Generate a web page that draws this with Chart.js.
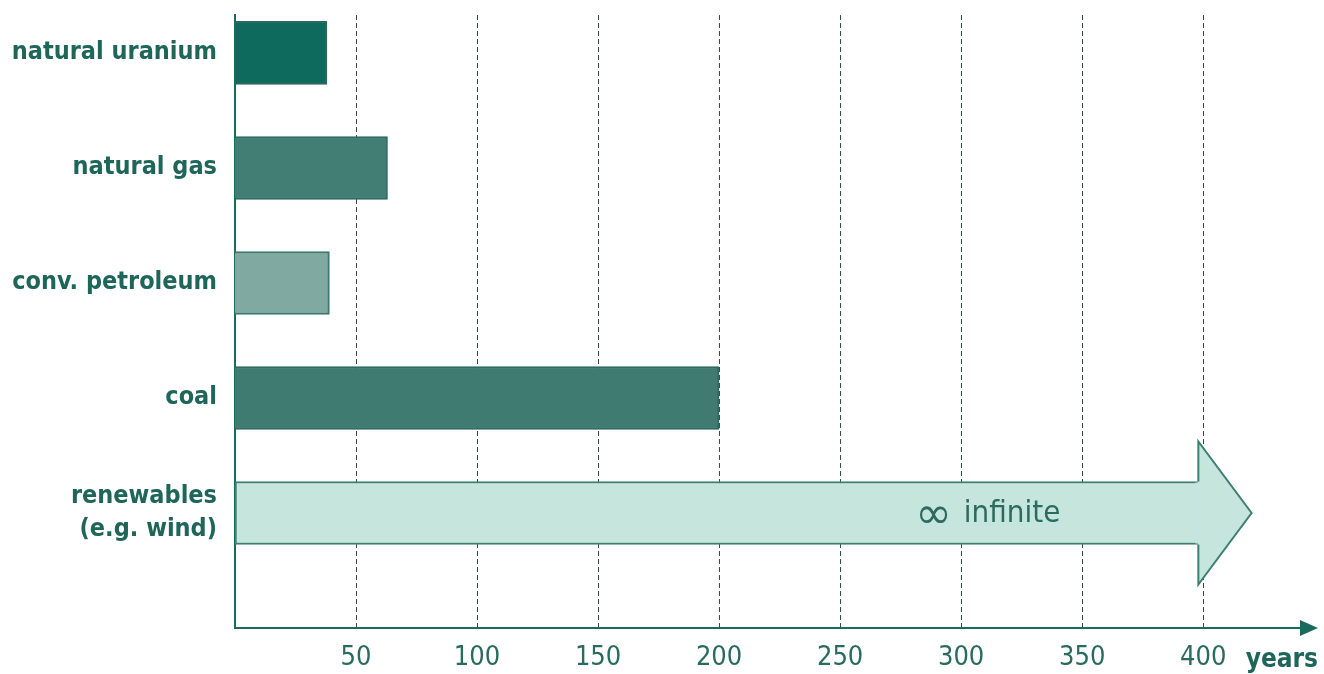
<!DOCTYPE html>
<html>
<head>
<meta charset="utf-8">
<title>Range of energy reserves</title>
<script src="https://cdn.jsdelivr.net/npm/chart.js@4.4.1/dist/chart.umd.min.js"></script>
<style>
    html, body { margin: 0; padding: 0; background: #ffffff; }
    #wrap { width: 1324px; height: 674px; position: relative; }
</style>
</head>
<body>
<div id="wrap"><canvas id="reservesChart"></canvas></div>
<script>
// Static reach of energy reserves, in years
const categories = ['natural uranium', 'natural gas', 'conv. petroleum', 'coal', ['renewables', '(e.g. wind)']];
const reachYears = [38, 63, 39, 200, 398];
const renewablesTip = 420;      // arrow point of the "infinite" bar
const barColors = ['#0d6a5d', '#427e74', '#80a9a1', '#3f7b71', '#c5e5dd'];
const xTicks = [50, 100, 150, 200, 250, 300, 350, 400];
const xUnit = 'years';
const infiniteLabel = 'infinite';

const TEAL = '#1c6a5e';
const TEXT = '#1e6659';
const NARROW = "'Liberation Sans Narrow', 'DejaVu Sans Condensed', sans-serif";

// arrowheads, "years" unit and the infinite label
const decorPlugin = {
    id: 'decor',
    afterDatasetsDraw(chart) {
        const { ctx, chartArea, scales } = chart;
        const x = scales.x;
        const bar = chart.getDatasetMeta(0).data[4];
        const half = bar.height / 2;

        // renewables arrow head
        const tipX = x.getPixelForValue(renewablesTip);
        const headHalf = half * 2.27;
        ctx.save();
        ctx.beginPath();
        ctx.moveTo(bar.x, bar.y - half);
        ctx.lineTo(bar.x, bar.y - headHalf);
        ctx.lineTo(tipX, bar.y);
        ctx.lineTo(bar.x, bar.y + headHalf);
        ctx.lineTo(bar.x, bar.y + half);
        ctx.fillStyle = barColors[4];
        ctx.fill();
        ctx.strokeStyle = '#3f7f73';
        ctx.lineWidth = 2;
        ctx.stroke();
        ctx.fillRect(bar.x - 3, bar.y - half + 1, 5, bar.height - 2);

        // infinite label inside the arrow
        ctx.fillStyle = '#2b6b60';
        ctx.textBaseline = 'middle';
        ctx.textAlign = 'right';
        ctx.font = '31px ' + NARROW;
        const textEnd = bar.x - 138;
        ctx.fillText(infiniteLabel, textEnd, bar.y + 1);
        const w = ctx.measureText(infiniteLabel).width;
        ctx.font = '44px "DejaVu Sans"';
        ctx.fillText('\u221E', textEnd - w - 12, bar.y + 4);

        // x axis arrow
        const axisY = chartArea.bottom;
        ctx.strokeStyle = TEAL;
        ctx.lineWidth = 2;
        ctx.beginPath();
        ctx.moveTo(chartArea.right, axisY);
        ctx.lineTo(1306, axisY);
        ctx.stroke();
        ctx.fillStyle = TEAL;
        ctx.beginPath();
        ctx.moveTo(1318, axisY);
        ctx.lineTo(1300, axisY - 8);
        ctx.lineTo(1300, axisY + 8);
        ctx.closePath();
        ctx.fill();

        // unit label
        ctx.fillStyle = TEXT;
        ctx.font = 'bold 26px ' + NARROW;
        ctx.textAlign = 'right';
        ctx.textBaseline = 'alphabetic';
        ctx.fillText(xUnit, 1318, 667);
        ctx.restore();
    }
};

const ctx = document.getElementById('reservesChart').getContext('2d');
new Chart(ctx, {
    type: 'bar',
    data: {
        datasets: [{
            data: reachYears.map((v, i) => ({ x: v, y: i })),
            backgroundColor: barColors,
            borderColor: ['#2a6a5f', '#2d6c61', '#3f7a70', '#2d6b61', '#3f7f73'],
            borderWidth: 2,
            borderSkipped: c => (c.dataIndex === 4 ? 'end' : 'start'),
            barThickness: 63
        }]
    },
    options: {
        indexAxis: 'y',
        responsive: true,
        maintainAspectRatio: false,
        animation: false,
        layout: { padding: { top: 15, right: 24, left: 0, bottom: 0 } },
        plugins: {
            legend: { display: false },
            tooltip: { enabled: false }
        },
        scales: {
            x: {
                type: 'linear',
                min: 0,
                max: 440,
                afterBuildTicks: s => { s.ticks = xTicks.map(v => ({ value: v })); },
                afterFit: s => { s.height = 46; s.paddingLeft = 0; s.paddingRight = 0; },
                grid: {
                    color: '#33504b',
                    lineWidth: 1,
                    drawTicks: false
                },
                border: { display: true, color: TEAL, width: 2, dash: [5, 3] },
                ticks: {
                    color: '#2a6b60',
                    padding: 14,
                    font: { family: NARROW, size: 27 },
                    maxRotation: 0,
                    autoSkip: false
                }
            },
            y: {
                type: 'linear',
                reverse: true,
                offset: false,
                min: -0.33,
                max: 5.0,
                afterBuildTicks: s => { s.ticks = categories.map((c, i) => ({ value: i })); },
                afterFit: s => { s.width = 235; s.paddingTop = 0; s.paddingBottom = 0; },
                grid: { display: false, drawTicks: false },
                border: { display: true, color: TEAL, width: 2 },
                ticks: {
                    color: TEXT,
                    padding: 18,
                    font: { family: NARROW, size: 25, weight: 'bold', lineHeight: 1.3 },
                    callback: v => categories[v]
                }
            }
        }
    },
    plugins: [decorPlugin]
});
</script>
</body>
</html>
